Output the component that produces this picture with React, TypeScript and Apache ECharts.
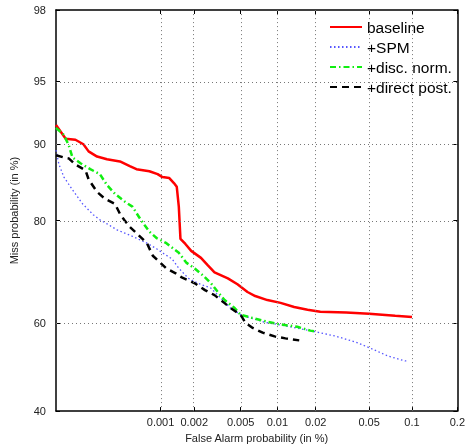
import React, { useEffect, useRef } from 'react';
import * as echarts from 'echarts';

// ---- tick labels (in %) ----
const xTickLabels = ['0.001', '0.002', '0.005', '0.01', '0.02', '0.05', '0.1', '0.2'];
const yTickLabels = ['40', '60', '80', '90', '95', '98'];
const xGridLabels = ['0.001', '0.002', '0.005', '0.01', '0.02', '0.05', '0.1'];
const yGridLabels = ['60', '80', '90', '95'];
const xMinPct = 0.0001;
const xMaxPct = 0.2;
const yMinPct = 40;
const yMaxPct = 98;

// ---- series (False alarm %, Miss %) ----
const baselineFA = [0.0001, 0.000125, 0.000156, 0.000187, 0.00021, 0.000254, 0.000316, 0.00042, 0.00052, 0.0006, 0.00079, 0.00094, 0.00104, 0.0012, 0.00132, 0.0014, 0.00146, 0.00151, 0.00167, 0.00188, 0.00229, 0.00263, 0.003, 0.0039, 0.0047, 0.0057, 0.0066, 0.0083, 0.0106, 0.0136, 0.0173, 0.0217, 0.034, 0.05, 0.0766, 0.1];
const baselineMiss = [91.8, 90.55, 90.45, 90.0, 89.26, 88.7, 88.4, 88.15, 87.6, 87.25, 87.0, 86.65, 86.27, 86.15, 85.5, 85.0, 82.2, 76.95, 76.05, 74.8, 73.5, 72.05, 70.7, 69.5, 68.3, 66.7, 65.85, 65.0, 64.4, 63.5, 62.9, 62.5, 62.3, 62.05, 61.6, 61.35];

const spmFA = [0.0001, 0.000107, 0.00012, 0.000146, 0.000183, 0.000233, 0.00027, 0.000316, 0.000394, 0.00055, 0.00075, 0.00092, 0.00104, 0.00127, 0.00146, 0.00178, 0.00216, 0.0028, 0.0034, 0.0041, 0.005, 0.0078, 0.0127, 0.0196, 0.0288, 0.04, 0.053, 0.0685, 0.0895, 0.093];
const spmMiss = [89.4, 87.83, 86.27, 84.6, 82.63, 80.95, 80.15, 79.5, 78.5, 77.4, 76.2, 75.2, 74.45, 73.3, 71.5, 69.5, 68.5, 67.5, 65.4, 63.3, 61.8, 60.2, 59.15, 58.1, 57.0, 55.7, 54.1, 52.5, 51.4, 51.4];

const discFA = [0.0001, 0.00012, 0.000134, 0.000146, 0.000175, 0.000218, 0.00027, 0.000316, 0.000377, 0.00047, 0.00055, 0.00065, 0.00071, 0.00079, 0.00092, 0.00113, 0.00146, 0.0017, 0.00202, 0.00238, 0.0028, 0.0032, 0.00366, 0.00445, 0.005, 0.0078, 0.01, 0.0144, 0.0182, 0.02];
const discMiss = [91.55, 90.9, 89.9, 88.6, 87.95, 87.25, 86.65, 85.25, 84.05, 82.9, 82.2, 80.3, 79.35, 78.2, 77.1, 76.2, 74.45, 72.6, 71.45, 70.1, 68.5, 66.7, 65.0, 63.3, 61.8, 60.45, 59.8, 59.15, 58.3, 58.1];

const directFA = [0.0001, 0.00012, 0.000134, 0.000156, 0.000196, 0.00021, 0.000254, 0.000302, 0.000377, 0.00042, 0.00046, 0.00052, 0.000617, 0.00075, 0.00085, 0.00113, 0.00137, 0.00155, 0.00202, 0.00248, 0.003, 0.00366, 0.0041, 0.005, 0.0055, 0.0063, 0.0076, 0.0095, 0.0116, 0.0149];
const directMiss = [88.85, 88.6, 88.5, 87.8, 87.1, 86.0, 84.3, 83.35, 82.6, 81.1, 80.15, 79.0, 77.75, 76.2, 73.9, 71.45, 70.5, 69.7, 68.5, 67.1, 66.05, 64.35, 63.3, 61.8, 60.0, 58.9, 57.85, 57.0, 56.55, 56.1];

// Inverse standard normal CDF (Acklam) -- the DET probit scale
function probit(p: number): number {
  const a = [-3.969683028665376e1, 2.209460984245205e2, -2.759285104469687e2, 1.38357751867269e2, -3.066479806614716e1, 2.506628277459239];
  const b = [-5.447609879822406e1, 1.615858368580409e2, -1.556989798598866e2, 6.680131188771972e1, -1.328068155288572e1];
  const c = [-7.784894002430293e-3, -3.223964580411365e-1, -2.400758277161838, -2.549732539343734, 4.374664141464968, 2.938163982698783];
  const d = [7.784695709041462e-3, 3.224671290700398e-1, 2.445134137142996, 3.75440814538635];
  const plow = 0.02425;
  if (p < plow) {
    const q = Math.sqrt(-2 * Math.log(p));
    return (((((c[0] * q + c[1]) * q + c[2]) * q + c[3]) * q + c[4]) * q + c[5]) / ((((d[0] * q + d[1]) * q + d[2]) * q + d[3]) * q + 1);
  }
  if (p <= 1 - plow) {
    const q = p - 0.5;
    const r = q * q;
    return ((((((a[0] * r + a[1]) * r + a[2]) * r + a[3]) * r + a[4]) * r + a[5]) * q) / (((((b[0] * r + b[1]) * r + b[2]) * r + b[3]) * r + b[4]) * r + 1);
  }
  const q = Math.sqrt(-2 * Math.log(1 - p));
  return -(((((c[0] * q + c[1]) * q + c[2]) * q + c[3]) * q + c[4]) * q + c[5]) / ((((d[0] * q + d[1]) * q + d[2]) * q + d[3]) * q + 1);
}

const px = (pct: number) => probit(pct / 100);
const xTickVals = xTickLabels.map((l) => px(parseFloat(l)));
const yTickVals = yTickLabels.map((l) => px(parseFloat(l)));

function nearestLabel(v: number, vals: number[], labels: string[]) {
  let best = 0;
  for (let i = 1; i < vals.length; i++) if (Math.abs(vals[i] - v) < Math.abs(vals[best] - v)) best = i;
  return labels[best];
}

const toData = (fa: number[], miss: number[]) => fa.map((f, i) => [px(f), px(miss[i])]);

const FONT = 'Liberation Sans, Arial, Helvetica, sans-serif';

export default function App() {
  const ref = useRef<HTMLDivElement>(null);
  useEffect(() => {
    if (!ref.current) return;
    const chart = echarts.init(ref.current, undefined, { renderer: 'svg' });
    const xMin = px(xMinPct), xMax = px(xMaxPct), yMin = px(yMinPct), yMax = px(yMaxPct);
    const axisLine = { show: true, onZero: false, lineStyle: { color: '#000', width: 1.5 } };
    const xAxisBase = {
      type: 'value', min: xMin, max: xMax, splitLine: { show: false },
      axisLine,
      axisTick: { show: true, inside: true, length: 4, customValues: xTickVals, lineStyle: { color: '#000' } },
    };
    const yAxisBase = {
      type: 'value', min: yMin, max: yMax, splitLine: { show: false },
      axisLine,
      axisTick: { show: true, inside: true, length: 4, customValues: yTickVals, lineStyle: { color: '#000' } },
    };
    const lineSeries = (name: string, fa: number[], miss: number[], color: string, width: number, type: any) => ({
      name, type: 'line', data: toData(fa, miss), symbol: 'none', showSymbol: false,
      lineStyle: { color, width, type }, itemStyle: { color: 'rgba(0,0,0,0)' }, z: 3,
    });
    chart.setOption({
      animation: false,
      grid: { left: 55, right: 6, top: 10, bottom: 30, containLabel: false },
      xAxis: [
        {
          ...xAxisBase, position: 'bottom',
          name: 'False Alarm probability (in %)', nameLocation: 'middle', nameGap: 19,
          nameTextStyle: { fontFamily: FONT, fontSize: 11, color: '#222' },
          axisLabel: {
            customValues: xTickVals, margin: 5, fontFamily: FONT, fontSize: 11, color: '#222',
            formatter: (v: number) => nearestLabel(v, xTickVals, xTickLabels),
          },
        },
        { ...xAxisBase, position: 'top', axisLabel: { show: false } },
      ],
      yAxis: [
        {
          ...yAxisBase, position: 'left',
          name: 'Miss probability (in %)', nameLocation: 'middle', nameGap: 37,
          nameTextStyle: { fontFamily: FONT, fontSize: 11, color: '#222' },
          axisLabel: {
            customValues: yTickVals, margin: 10, fontFamily: FONT, fontSize: 11, color: '#222',
            formatter: (v: number) => nearestLabel(v, yTickVals, yTickLabels),
          },
        },
        { ...yAxisBase, position: 'right', axisLabel: { show: false } },
      ],
      legend: {
        data: ['baseline', '+SPM', '+disc. norm.', '+direct post.'],
        orient: 'vertical', left: 329, top: 19, padding: 0, itemWidth: 32, itemHeight: 14, itemGap: 4,
        itemStyle: { opacity: 0 },
        textStyle: { fontFamily: FONT, fontSize: 15.5, color: '#000', overflow: 'none', width: 120 },
        backgroundColor: 'transparent',
      },
      series: [
        {
          name: '__grid', type: 'line', data: [], silent: true,
          markLine: {
            silent: true, symbol: 'none', label: { show: false },
            lineStyle: { type: [1, 3], color: '#777', width: 1 },
            data: [
              ...xGridLabels.map((l) => ({ xAxis: px(parseFloat(l)) })),
              ...yGridLabels.map((l) => ({ yAxis: px(parseFloat(l)) })),
            ],
          },
          z: 1,
        },
        lineSeries('baseline', baselineFA, baselineMiss, '#ff0000', 2.5, 'solid'),
        lineSeries('+SPM', spmFA, spmMiss, '#5555ff', 1.3, [1.5, 2.5]),
        lineSeries('+disc. norm.', discFA, discMiss, '#11ee11', 2.5, [6, 3, 1.5, 3]),
        lineSeries('+direct post.', directFA, directMiss, '#000000', 2.5, [7, 5]),
      ],
    });
    return () => chart.dispose();
  }, []);
  return <div ref={ref} style={{ position: 'fixed', left: 0, top: 0, width: 468, height: 448 }} />;
}
